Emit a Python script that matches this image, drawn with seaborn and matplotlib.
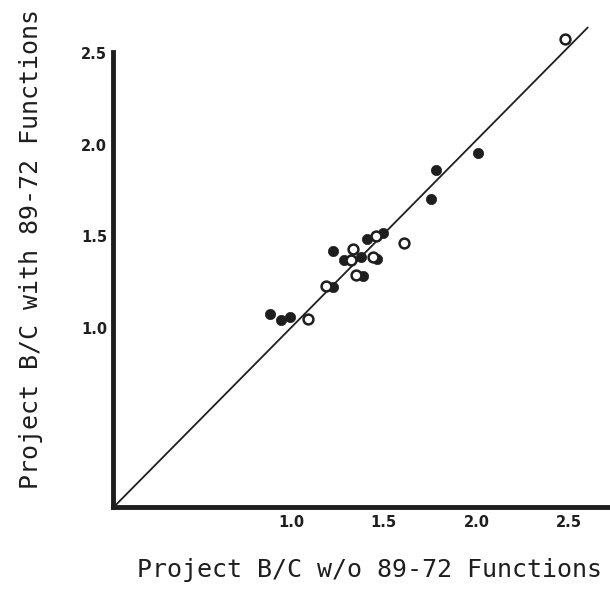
import matplotlib
matplotlib.use("Agg")
import matplotlib.pyplot as plt
import numpy as np
import pandas as pd
import seaborn as sns

# B/C without the 89-72 functions (x) vs with them (y)
filled_x = [0.885, 0.944, 0.993, 1.225, 1.225, 1.284, 1.376, 1.387, 1.409, 1.495,
            1.462, 1.754, 1.781, 2.008]
filled_y = [1.075, 1.042, 1.058, 1.224, 1.420, 1.371, 1.387, 1.284, 1.486, 1.518,
            1.376, 1.704, 1.862, 1.955]
open_x = [1.090, 1.187, 1.333, 1.322, 1.349, 1.457, 1.441, 1.608, 2.477]
open_y = [1.050, 1.230, 1.431, 1.371, 1.289, 1.502, 1.387, 1.463, 2.578]

# 45-degree reference line
diag_x = [0.04, 2.60]
diag_y = [0.02, 2.64]

x_ticks = [1.0, 1.5, 2.0, 2.5]
y_ticks = [1.0, 1.5, 2.0, 2.5]
tick_labels = ["1.0", "1.5", "2.0", "2.5"]

x_label = "Project B/C w/o 89-72 Functions"
y_label = "Project B/C with 89-72 Functions"

sns.set_style("white")
ink = "#1e1e1e"

fig = plt.figure(figsize=(6.1, 6.05), dpi=100)
ax = fig.add_axes([0.185, 0.162, 0.815, 0.752])

filled = pd.DataFrame({"x": filled_x, "y": filled_y})
hollow = pd.DataFrame({"x": open_x, "y": open_y})

ax.plot(diag_x, diag_y, color=ink, lw=1.3, clip_on=False, zorder=1)
sns.scatterplot(data=filled, x="x", y="y", ax=ax, s=55, color=ink,
                edgecolor=ink, linewidth=0.5, clip_on=False, zorder=3)
sns.scatterplot(data=hollow, x="x", y="y", ax=ax, s=50, facecolor="white",
                edgecolor=ink, linewidth=1.8, clip_on=False, zorder=4)

ax.set_xlim(0.038, 2.72)
ax.set_ylim(0.023, 2.506)

ax.set_xticks(x_ticks)
ax.set_yticks(y_ticks)
ax.set_xticklabels(tick_labels, fontsize=10.5, fontweight="bold", color=ink)
ax.set_yticklabels(tick_labels, fontsize=10.5, fontweight="bold", color=ink)
ax.tick_params(direction="in", length=5, width=1.5, color=ink)
ax.tick_params(axis="x", pad=6)
ax.tick_params(axis="y", pad=4)

for side in ["top", "right"]:
    ax.spines[side].set_visible(False)
for side in ["left", "bottom"]:
    ax.spines[side].set_linewidth(3.5)
    ax.spines[side].set_color(ink)

ax.set_xlabel(x_label, fontsize=18, family="DejaVu Sans Mono", color=ink)
ax.set_ylabel(y_label, fontsize=18, family="DejaVu Sans Mono", color=ink)
ax.xaxis.set_label_coords(0.517, -0.112)
ax.yaxis.set_label_coords(-0.14, 0.567)

fig.savefig("out.png", dpi=100)
